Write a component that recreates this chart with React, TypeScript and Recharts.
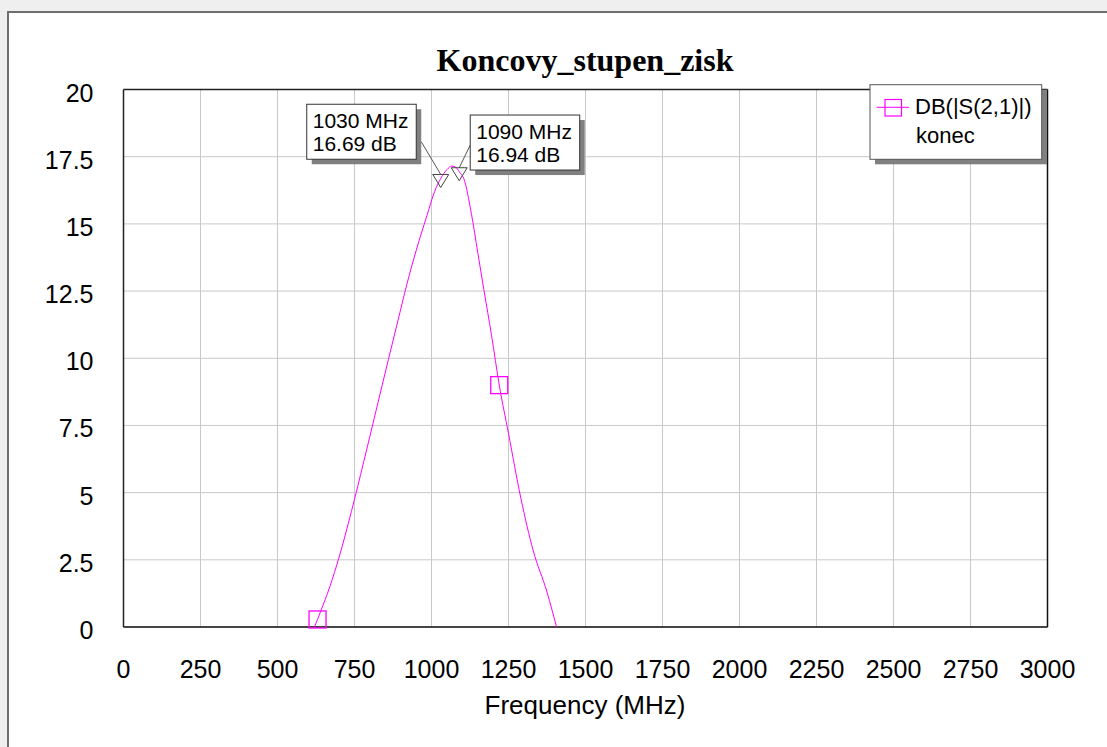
import React from 'react';
import {
  ComposedChart,
  Line,
  XAxis,
  YAxis,
  CartesianGrid,
  ReferenceLine,
  ReferenceDot,
} from 'recharts';

// ---- data ----
const freqs = [620, 630, 640, 670, 700, 740, 780, 820, 860, 890, 920, 950, 985, 1010, 1030, 1050, 1066, 1080, 1090, 1105, 1130, 1150, 1170, 1195, 1220, 1250, 1290, 1330, 1375, 1406];
const gains = [0, 0.28, 0.58, 1.5, 2.6, 4.3, 6.15, 8.05, 9.95, 11.35, 12.75, 14.0, 15.3, 16.2, 16.69, 17.02, 17.15, 17.1, 16.94, 16.68, 15.35, 13.95, 12.55, 10.85, 9.0, 7.2, 4.8, 2.85, 1.3, 0];
const xTicks = [0, 250, 500, 750, 1000, 1250, 1500, 1750, 2000, 2250, 2500, 2750, 3000];
const yTicks = [0, 2.5, 5, 7.5, 10, 12.5, 15, 17.5, 20];
const squareMarkerFreqs = [630, 1220];
const markerFreqs = [1030, 1090];
const markerGains = [16.69, 16.94];
const markerLabels1 = ['1030 MHz', '1090 MHz'];
const markerLabels2 = ['16.69 dB', '16.94 dB'];
const title = 'Koncovy_stupen_zisk';
const xLabel = 'Frequency (MHz)';
const legendLine1 = 'DB(|S(2,1)|)';
const legendLine2 = 'konec';

const data = freqs.map((f, i) => ({ f, g: gains[i] }));

const SANS = 'Liberation Sans, Arial, sans-serif';
const SERIF = 'Liberation Serif, Times New Roman, serif';
const MAGENTA = '#ff00ff';

const YTick = (props: any) => (
  <text x={93.5} y={props.y + 12} textAnchor="end" fontSize={25} fontFamily={SANS} fill="#000">
    {props.payload.value}
  </text>
);

const XTick = (props: any) => (
  <text x={props.x} y={props.y + 51} textAnchor="middle" fontSize={25} fontFamily={SANS} fill="#000">
    {props.payload.value}
  </text>
);

const SquareDot = (props: any) => {
  const { cx, cy, payload, index } = props;
  if (!payload || squareMarkerFreqs.indexOf(payload.f) < 0) return <g key={`d${index}`} />;
  return (
    <rect key={`d${index}`} x={cx - 8.5} y={cy - 8.5} width={17} height={17} fill="none" stroke={MAGENTA} strokeWidth={1.3} />
  );
};

const makeCallout = (i: number) => (props: any) => {
  const { cx, cy } = props;
  const w = 109.5;
  const h = 55;
  const left = i === 0;
  const bx = left ? cx - 134 : cx + 11;
  const by = left ? cy - 74.2 : cy - 56.7;
  const lx = left ? bx + w + 5 : bx;
  const ly = left ? by + 37.5 : by + 30;
  return (
    <g>
      <line x1={lx} y1={ly} x2={cx} y2={cy - 4} stroke="#555" strokeWidth={1} />
      <polygon points={`${cx - 8},${cy - 4} ${cx + 8},${cy - 4} ${cx},${cy + 9}`} fill="none" stroke="#444" strokeWidth={1} />
      <rect x={bx + 5} y={by + 5} width={w} height={h} fill="#808080" />
      <rect x={bx} y={by} width={w} height={h} fill="#fff" stroke="#333" strokeWidth={1} />
      <text x={bx + 6} y={by + 24} fontSize={21} fontFamily={SANS} fill="#000">{markerLabels1[i]}</text>
      <text x={bx + 6} y={by + 47} fontSize={21} fontFamily={SANS} fill="#000">{markerLabels2[i]}</text>
    </g>
  );
};

export default function App() {
  return (
    <div style={{ position: 'absolute', left: 0, top: 0, width: 1107, height: 747, background: '#efefef', overflow: 'hidden' }}>
      <div
        style={{
          position: 'absolute',
          left: 7,
          top: 11,
          right: 0,
          bottom: 0,
          background: '#fff',
          borderLeft: '2px solid #6e6e6e',
          borderTop: '2px solid #6e6e6e',
        }}
      />
      <div style={{ position: 'absolute', left: 0, top: 0 }}>
        <ComposedChart width={1107} height={747} data={data} margin={{ top: 89.5, right: 59.5, bottom: 0, left: 0 }}>
          <CartesianGrid stroke="#c8c8c8" strokeWidth={1} />
          <XAxis
            dataKey="f"
            type="number"
            domain={[0, 3000]}
            ticks={xTicks}
            interval={0}
            height={120}
            axisLine={false}
            tickLine={false}
            tickSize={0}
            tickMargin={0}
            tick={<XTick />}
          />
          <YAxis
            type="number"
            domain={[0, 20]}
            ticks={yTicks}
            interval={0}
            width={123.5}
            axisLine={false}
            tickLine={false}
            tickSize={0}
            tickMargin={0}
            tick={<YTick />}
          />
          <ReferenceLine x={0} stroke="#222" strokeWidth={1.5} />
          <ReferenceLine x={3000} stroke="#111" strokeWidth={1.5} />
          <ReferenceLine y={20} stroke="#222" strokeWidth={1.5} />
          <ReferenceLine y={0} stroke="#111" strokeWidth={1.5} />
          <Line
            dataKey="g"
            type="monotone"
            stroke={MAGENTA}
            strokeWidth={1}
            dot={SquareDot}
            activeDot={false}
            isAnimationActive={false}
          />
          {markerFreqs.map((f, i) => (
            <ReferenceDot key={f} x={f} y={markerGains[i]} r={0} ifOverflow="visible" shape={makeCallout(i)} />
          ))}
        </ComposedChart>
      </div>
      <svg width={1107} height={747} style={{ position: 'absolute', left: 0, top: 0, pointerEvents: 'none' }}>
        <text x={585} y={71} textAnchor="middle" fontFamily={SERIF} fontWeight="bold" fontSize={32} fill="#000">
          {title}
        </text>
        <text x={585} y={714} textAnchor="middle" fontFamily={SANS} fontSize={26} fill="#000">
          {xLabel}
        </text>
        <rect x={875} y={89.7} width={172} height={74.6} fill="#808080" />
        <rect x={870} y={84.7} width={171.7} height={74.6} fill="#fff" stroke="#555" strokeWidth={1} />
        <line x1={876.7} x2={909} y1={107.3} y2={107.3} stroke={MAGENTA} strokeWidth={1} />
        <rect x={885} y={99.5} width={16.5} height={16.5} fill="none" stroke={MAGENTA} strokeWidth={1.2} />
        <text x={915} y={114} fontFamily={SANS} fontSize={22} fill="#000">{legendLine1}</text>
        <text x={916} y={142.7} fontFamily={SANS} fontSize={22} fill="#000">{legendLine2}</text>
      </svg>
    </div>
  );
}
